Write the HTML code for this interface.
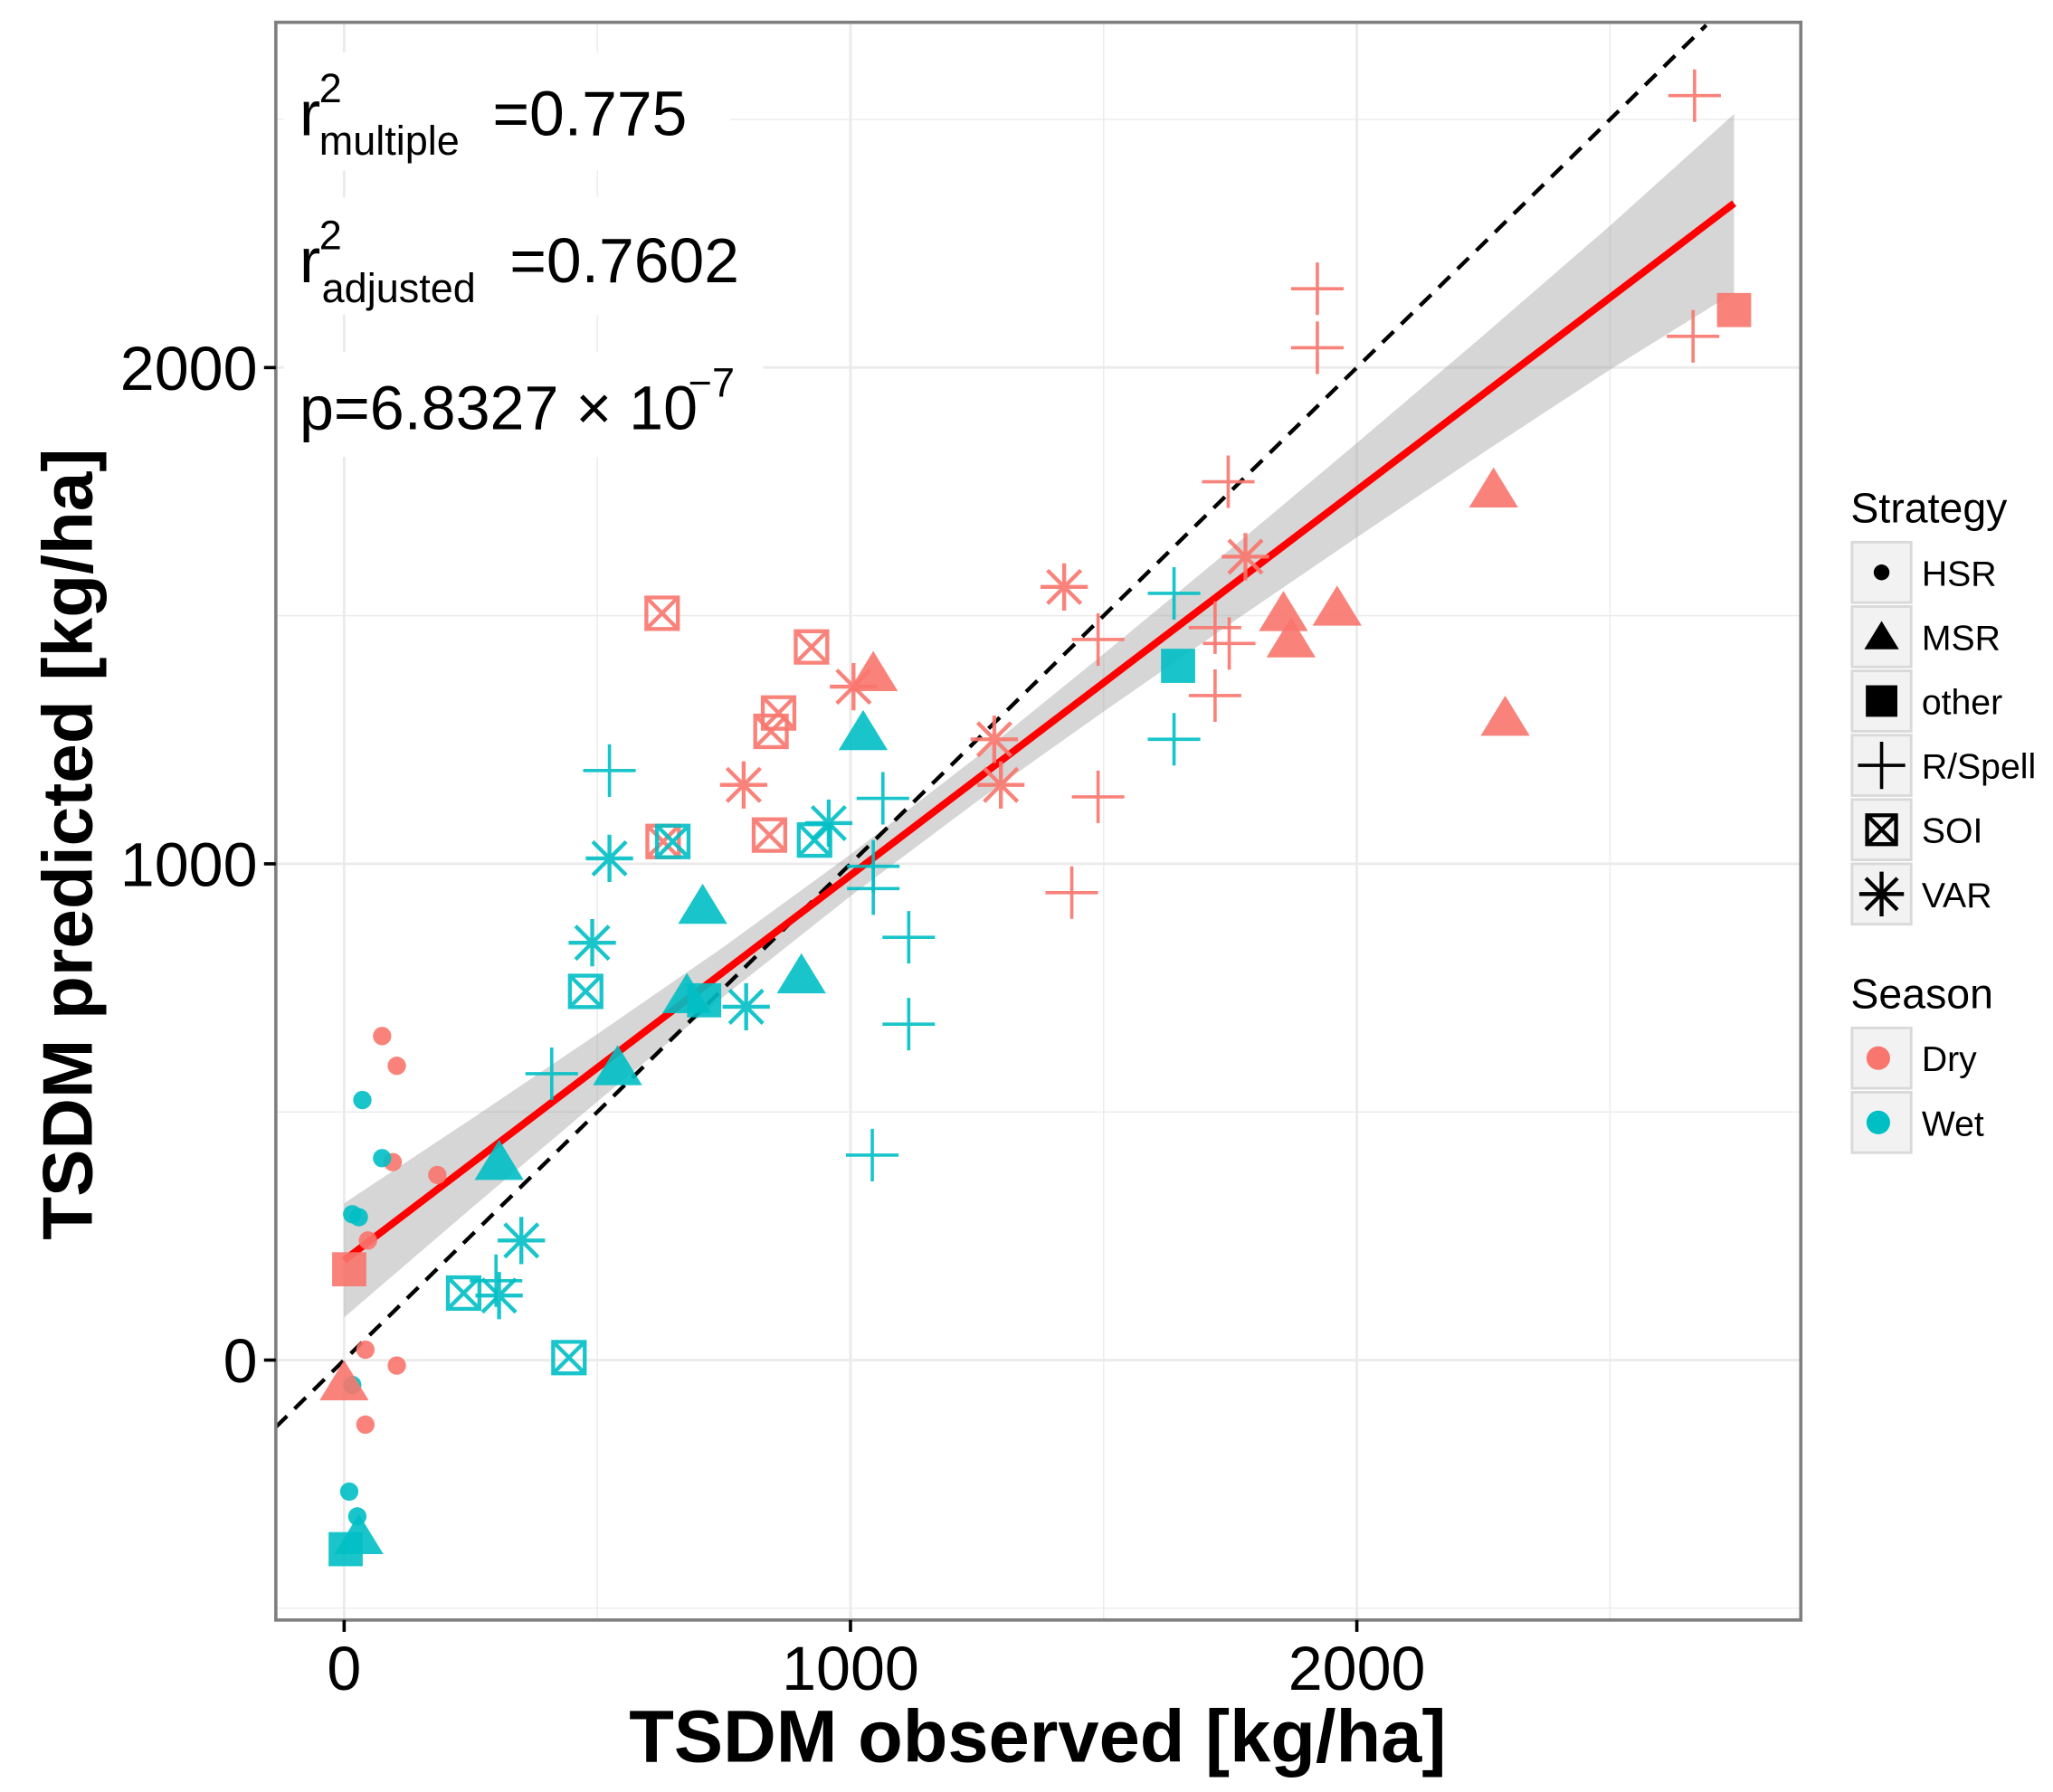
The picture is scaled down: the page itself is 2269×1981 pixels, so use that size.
<!DOCTYPE html>
<html><head><meta charset="utf-8"><style>
html,body{margin:0;padding:0;background:#fff;}
svg{display:block;font-family:"Liberation Sans",Arial,sans-serif;}
</style></head><body>
<svg id="chart" width="2269" height="1981" viewBox="0 0 1563 1365" preserveAspectRatio="none" xmlns="http://www.w3.org/2000/svg">
<g id="grid"></g>
<g id="band"></g>
<g id="lines"></g>
<g id="pts"></g>
<g>
 <rect x="216" y="40" width="340" height="90" fill="#fff"/>
 <rect x="216" y="150" width="360" height="90" fill="#fff"/>
 <rect x="216" y="268" width="365" height="80" fill="#fff"/>
 <text x="228" y="103" font-size="48">r</text>
 <text x="243" y="78" font-size="31">2</text>
 <text x="243" y="118" font-size="31">multiple</text>
 <text x="375" y="103" font-size="48">=0.775</text>
 <text x="228" y="215" font-size="48">r</text>
 <text x="243" y="190" font-size="31">2</text>
 <text x="245" y="230" font-size="31">adjusted</text>
 <text x="388" y="215" font-size="48">=0.7602</text>
 <text x="228" y="327" font-size="47">p=6.8327 × 10</text>
 <text x="524" y="302" font-size="31">−7</text>
</g>
<rect x="210" y="17" width="1161" height="1217" fill="none" stroke="#7f7f7f" stroke-width="2.5"/>
<g id="axes"></g>
<text x="790" y="1342" font-size="56" font-weight="bold" text-anchor="middle">TSDM observed [kg/ha]</text>
<text transform="translate(70,643) rotate(-90)" font-size="54" font-weight="bold" text-anchor="middle">TSDM predicted [kg/ha]</text>
<g id="legend"></g>
</svg>
<script>
const xTicks=[0,1000,2000];
const yTicks=[0,1000,2000];
const lineX=[0,2745];
const lineY=[201,2331];
const bandX=[0,250,500,750,1000,1250,1500,1750,2000,2250,2500,2745];
const bandHalf=[115,90,68,50,42,45,58,75,95,118,145,180];
// points: [x,y]
const hsrDry=[[75,653],[104,593],[96,399],[184,373],[42,21],[104,-11],[42,-130],[47,241]];
const hsrWet=[[36,524],[75,407],[16,294],[29,288],[16,-50],[10,-265],[26,-315]];
const msrDry=[[2270,1754],[1855,1505],[1870,1452],[1961,1516],[2293,1294],[1045,1384],[0,-45]];
const msrWet=[[1025,1265],[708,915],[903,775],[677,735],[540,590],[306,399],[29,-355]];
const otherDry=[[2745,2116],[10,183]];
const otherWet=[[1647,1399],[711,725],[3,-381]];
const rsDry=[[2667,2548],[1922,2159],[1922,2040],[2664,2063],[1746,1770],[1720,1476],[1748,1444],[1489,1452],[1720,1339],[1489,1135],[1437,942]];
const rsWet=[[1639,1545],[1639,1251],[524,1188],[1064,1132],[1045,995],[1045,950],[1115,852],[1115,677],[410,577],[1043,413],[300,160]];
const soiDry=[[628,1505],[923,1437],[858,1304],[843,1267],[840,1058],[630,1045]];
const soiWet=[[649,1045],[929,1048],[477,743],[236,135],[444,5]];
const varDry=[[1422,1558],[1780,1619],[1284,1251],[1297,1159],[789,1159],[1006,1357]];
const varWet=[[957,1082],[524,1011],[490,841],[794,712],[350,241],[306,130]];

const NS="http://www.w3.org/2000/svg";
const X=v=>262+v*0.3855, Y=v=>1036-v*0.378;
const DRY="#F8766D", WET="#00BFC4";
function mk(tag,attrs,parent){const e=document.createElementNS(NS,tag);for(const k in attrs)e.setAttribute(k,attrs[k]);parent.appendChild(e);return e;}
const grid=document.getElementById('grid');
for(let v=-500;v<=3000;v+=500){const x=X(v);if(x>210&&x<1371){const g=mk('line',{x1:x,x2:x,y1:17,y2:1234,stroke:'#ebebeb','stroke-width':v%1000===0?2:1},grid);}
 const y=Y(v);if(y>17&&y<1234){const g=mk('line',{x1:210,x2:1371,y1:y,y2:y,stroke:'#ebebeb','stroke-width':v%1000===0?2:1},grid);}}
let up=[],dn=[];bandX.forEach((x,i)=>{const yv=lineY[0]+(lineY[1]-lineY[0])*(x-lineX[0])/(lineX[1]-lineX[0]);up.push(X(x)+','+Y(yv+bandHalf[i]));dn.unshift(X(x)+','+Y(yv-bandHalf[i]));});
const bp=mk('polygon',{points:up.concat(dn).join(' '),fill:'#999',opacity:0.4},document.getElementById('band'));

const lines=document.getElementById('lines');
const dl=mk('line',{x1:X(-135),y1:Y(-135),x2:X(2690),y2:Y(2690),stroke:'#000','stroke-width':3,'stroke-dasharray':'12 8'},lines);

const rl=mk('line',{x1:X(lineX[0]),y1:Y(lineY[0]),x2:X(lineX[1]),y2:Y(lineY[1]),stroke:'#ff0000','stroke-width':5.5},lines);

function shape(type,cx,cy,col,p,s){let g=mk('g',{},p);
 if(type==='hsr')mk('circle',{cx,cy,r:s?6:7,fill:col},g);
 else if(type==='msr'){const h=s?12:17;mk('polygon',{points:`${cx},${cy-h} ${cx-h*1.1},${cy+h*0.8} ${cx+h*1.1},${cy+h*0.8}`,fill:col},g);}
 else if(type==='other'){const h=s?12:13;mk('rect',{x:cx-h,y:cy-h,width:2*h,height:2*h,fill:col},g);}
 else if(type==='rs'){const h=s?18:20;mk('path',{d:`M${cx-h},${cy}H${cx+h}M${cx},${cy-h}V${cy+h}`,stroke:col,'stroke-width':2.5,fill:'none'},g);}
 else if(type==='soi'){const h=s?11:12;mk('path',{d:`M${cx-h},${cy-h}H${cx+h}V${cy+h}H${cx-h}ZM${cx-h},${cy-h}L${cx+h},${cy+h}M${cx+h},${cy-h}L${cx-h},${cy+h}`,stroke:col,'stroke-width':3,fill:'none'},g);}
 else if(type==='var'){const h=s?17:18,d=h*0.707;mk('path',{d:`M${cx-h},${cy}H${cx+h}M${cx},${cy-h}V${cy+h}M${cx-d},${cy-d}L${cx+d},${cy+d}M${cx+d},${cy-d}L${cx-d},${cy+d}`,stroke:col,'stroke-width':3,fill:'none'},g);}
 return g;}
const pts=document.getElementById('pts');
const sets=[['hsr',hsrDry,DRY],['hsr',hsrWet,WET],['msr',msrDry,DRY],['msr',msrWet,WET],['other',otherDry,DRY],['other',otherWet,WET],['rs',rsDry,DRY],['rs',rsWet,WET],['soi',soiDry,DRY],['soi',soiWet,WET],['var',varDry,DRY],['var',varWet,WET]];
sets.forEach(([t,arr,c])=>arr.forEach(([x,y])=>{const g=shape(t,X(x),Y(y),c,pts,false);g.setAttribute('opacity','0.9');
 
 }));
const axes=document.getElementById('axes');
xTicks.forEach(v=>{mk('line',{x1:X(v),x2:X(v),y1:1234,y2:1243,stroke:'#000','stroke-width':2.5},axes);
 const t=mk('text',{x:X(v),y:1287,'font-size':47,'text-anchor':'middle'},axes);t.textContent=v;
 });
yTicks.forEach(v=>{mk('line',{x1:201,x2:210,y1:Y(v),y2:Y(v),stroke:'#000','stroke-width':2.5},axes);
 const t=mk('text',{x:196,y:Y(v)+17,'font-size':47,'text-anchor':'end'},axes);t.textContent=v;
 });
const lg=document.getElementById('legend');
const strat=[['hsr','HSR'],['msr','MSR'],['other','other'],['rs','R/Spell'],['soi','SOI'],['var','VAR']];
let tt=mk('text',{x:1409,y:398,'font-size':32},lg);tt.textContent='Strategy';
strat.forEach(([t,l],i)=>{const cy=436+i*49;
 mk('rect',{x:1410,y:cy-23,width:45,height:46,fill:'#f2f2f2',stroke:'#d9d9d9','stroke-width':2},lg);
 shape(t,1432.5,cy,'#000',lg,true);
 const tx=mk('text',{x:1463,y:cy+10,'font-size':27},lg);tx.textContent=l;
 });
tt=mk('text',{x:1409,y:768,'font-size':32},lg);tt.textContent='Season';
[['Dry',DRY],['Wet',WET]].forEach(([l,c],i)=>{const cy=806+i*49;
 mk('rect',{x:1410,y:cy-23,width:45,height:46,fill:'#f2f2f2',stroke:'#d9d9d9','stroke-width':2},lg);
 mk('circle',{cx:1430,cy:cy,r:9,fill:c},lg);
 const tx=mk('text',{x:1463,y:cy+10,'font-size':27},lg);tx.textContent=l;
 });
</script>
</body></html>
